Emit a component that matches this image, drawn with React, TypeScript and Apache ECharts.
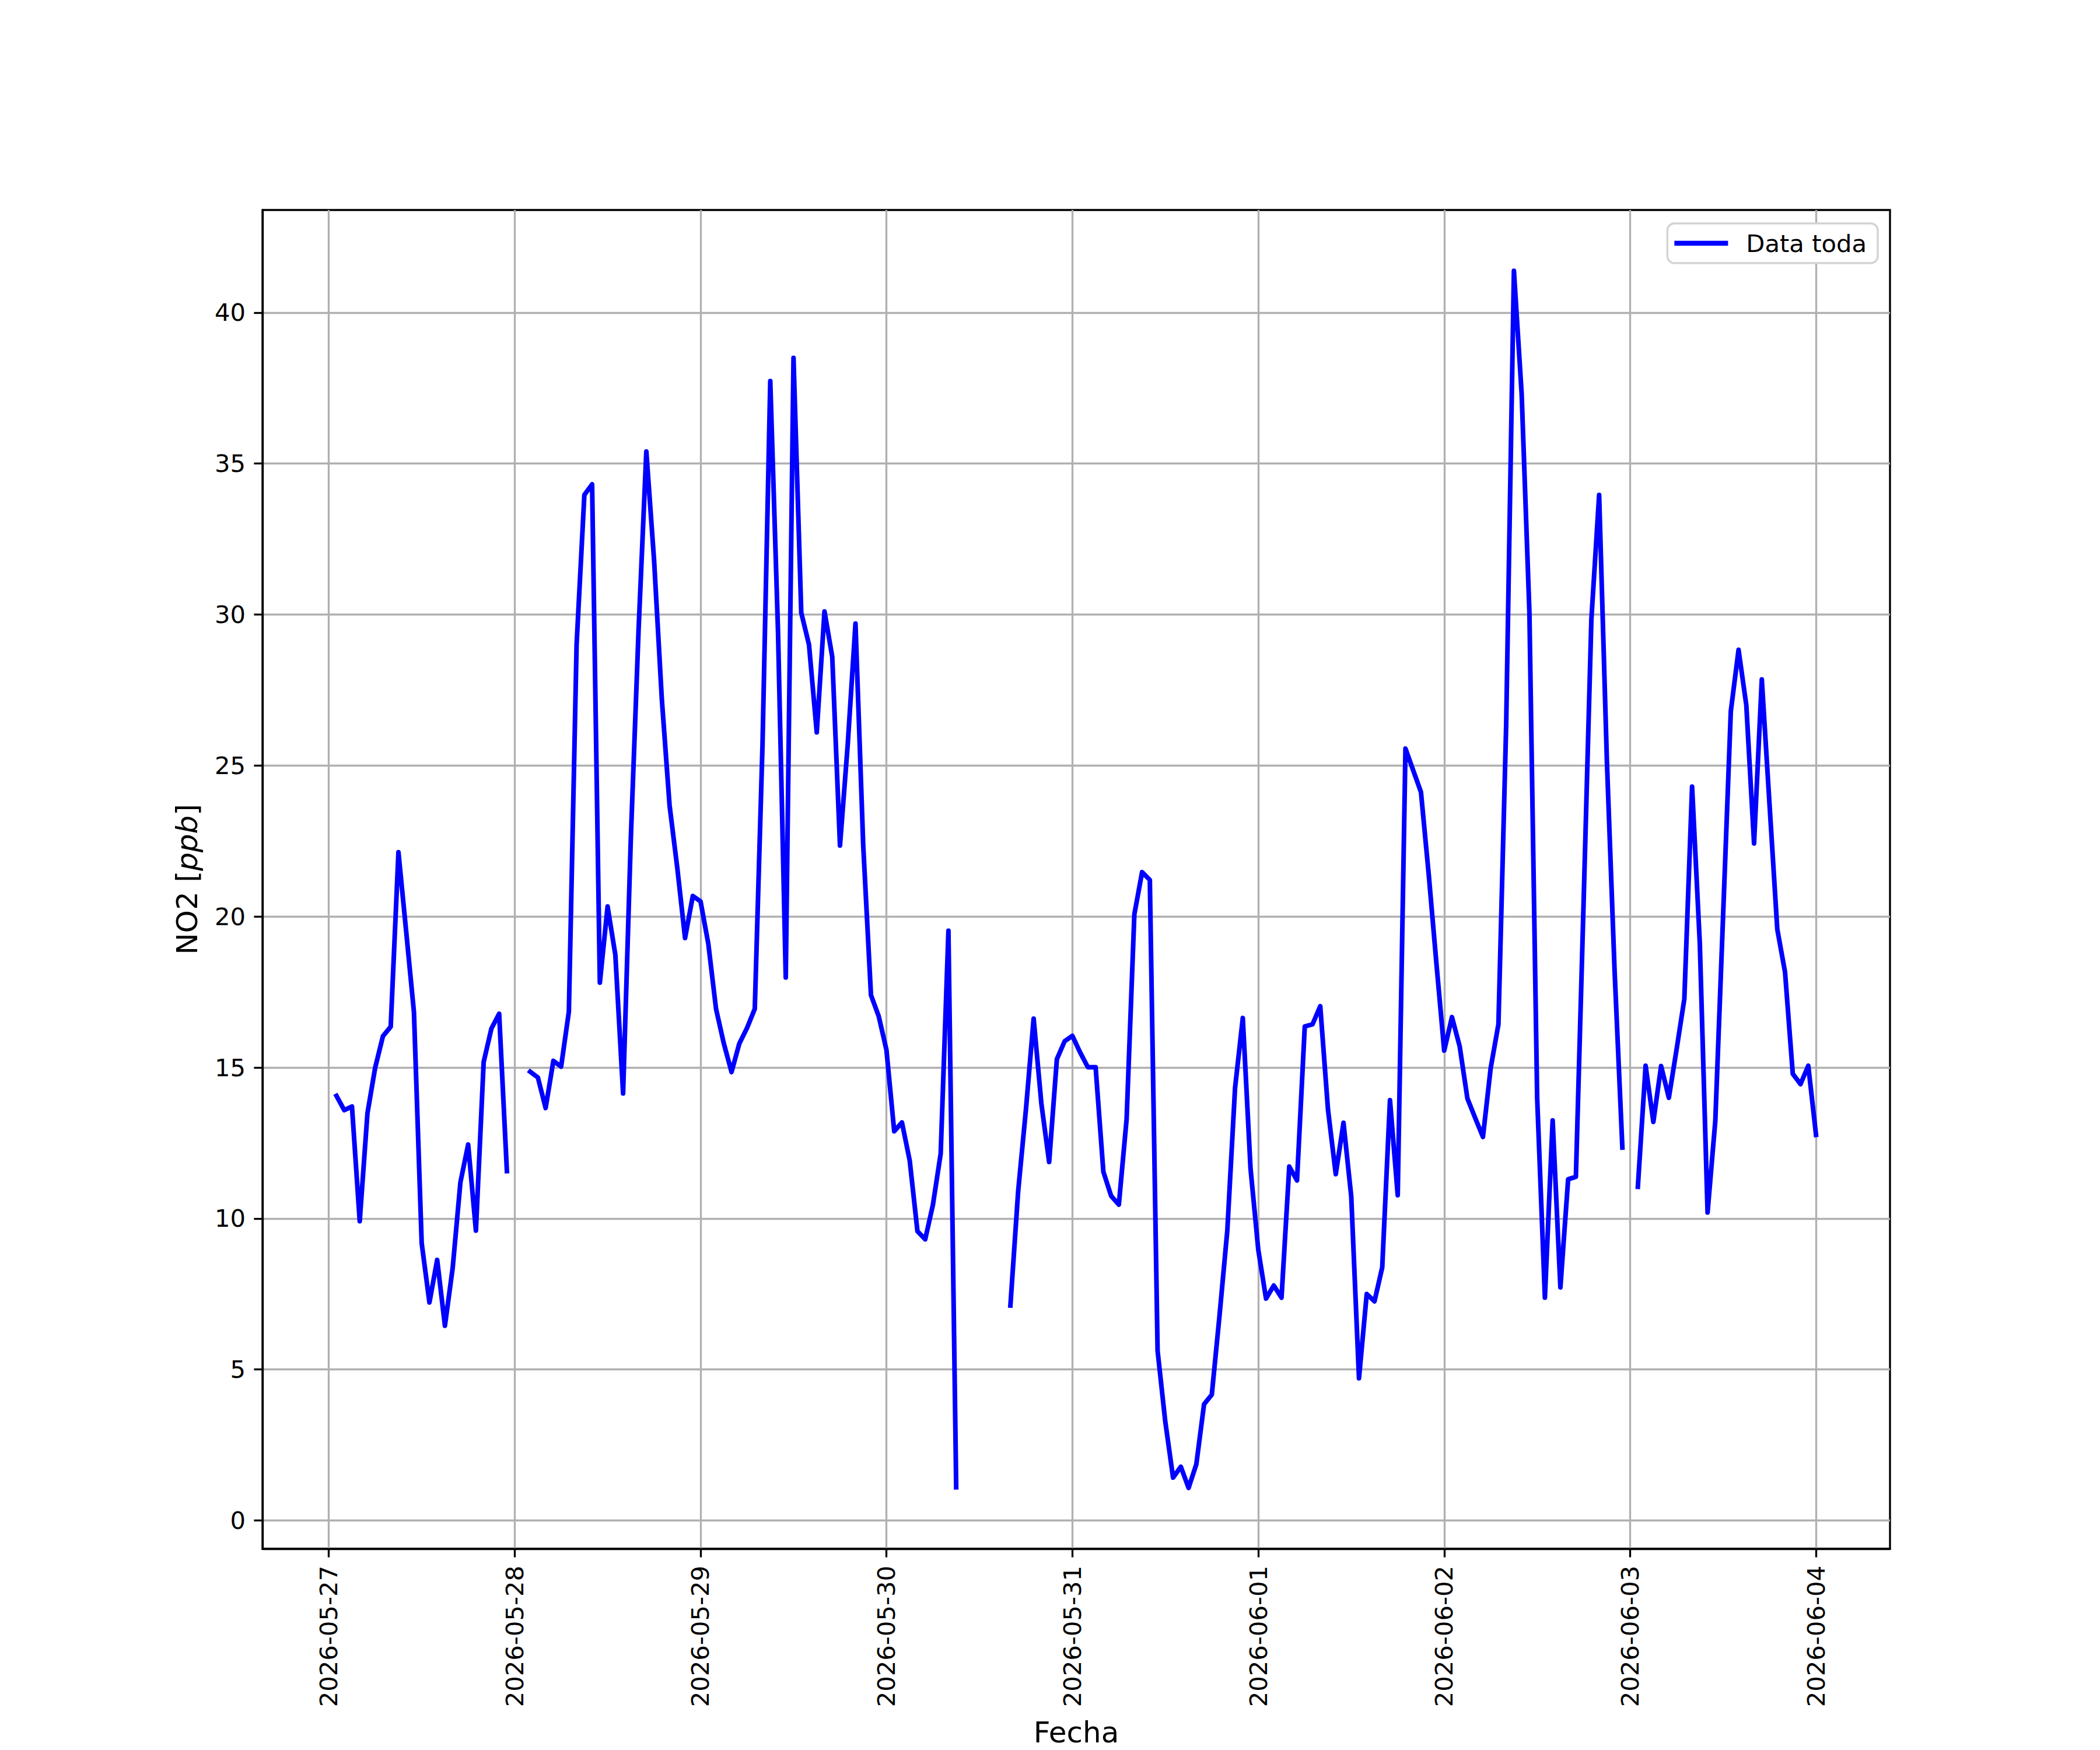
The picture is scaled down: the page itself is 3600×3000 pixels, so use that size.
import React, { useEffect, useRef } from "react";
import * as echarts from "echarts";

// Hourly NO2 values (ppb), one array per day, index = hour of day; null = no data
const no2_0527 = [null, 14.06, 13.59, 13.71, 9.91, 13.49, 15.0, 16.04, 16.35, 22.13, 19.5, 16.84, 9.18, 7.22, 8.63, 6.45, 8.36, 11.2, 12.45, 9.6, 15.18, 16.29, 16.78, 11.57];
const no2_0528 = [null, null, 14.86, 14.67, 13.66, 15.22, 15.03, 16.85, 29.02, 33.96, 34.31, 17.81, 20.33, 18.73, 14.14, 22.6, 29.5, 35.4, 31.8, 27.2, 23.68, 21.6, 19.29, 20.68];
const no2_0529 = [20.5, 19.1, 16.94, 15.8, 14.85, 15.79, 16.31, 16.94, 25.7, 37.73, 29.44, 17.98, 38.5, 30.06, 29.0, 26.1, 30.1, 28.6, 22.35, 25.7, 29.7, 22.35, 17.4, 16.7];
const no2_0530 = [15.58, 12.89, 13.18, 11.92, 9.58, 9.31, 10.46, 12.15, 19.53, 1.1, null, null, null, null, null, null, 7.12, 10.9, 13.6, 16.62, 13.8, 11.87, 15.28, 15.87];
const no2_0531 = [16.05, 15.5, 15.01, 15.01, 11.55, 10.75, 10.46, 13.29, 20.07, 21.47, 21.21, 5.62, 3.26, 1.42, 1.78, 1.08, 1.86, 3.85, 4.17, 6.8, 9.6, 14.32, 16.64, 11.65];
const no2_0601 = [8.96, 7.35, 7.78, 7.38, 11.72, 11.26, 16.36, 16.43, 17.03, 13.6, 11.47, 13.17, 10.73, 4.71, 7.5, 7.26, 8.38, 13.92, 10.77, 25.56, 24.84, 24.12, 21.4, 18.43];
const no2_0602 = [15.56, 16.67, 15.7, 13.97, 13.33, 12.7, 14.98, 16.43, 26.34, 41.38, 37.3, 30.07, 14.0, 7.38, 13.25, 7.72, 11.3, 11.38, 20.5, 29.84, 33.96, 25.17, 18.18, 12.35];
const no2_0603 = [null, 11.05, 15.06, 13.2, 15.05, 14.0, 15.6, 17.27, 24.3, 19.1, 10.2, 13.24, 20.0, 26.8, 28.83, 27.0, 22.42, 27.85, 23.7, 19.58, 18.16, 14.79, 14.45, 15.06];
const no2_0604 = [12.77];

const dayTickLabels = ["2026-05-27", "2026-05-28", "2026-05-29", "2026-05-30", "2026-05-31", "2026-06-01", "2026-06-02", "2026-06-03", "2026-06-04"];
const yTickValues = [0, 5, 10, 15, 20, 25, 30, 35, 40];

const seriesName = "Data toda";
const xAxisTitle = "Fecha";

const FONT = "DejaVu Sans";

export default function App() {
  const ref = useRef<HTMLDivElement>(null);

  useEffect(() => {
    if (!ref.current) return;
    const chart = echarts.init(ref.current, null, { renderer: "svg", width: 3600, height: 3000 });

    const days = [no2_0527, no2_0528, no2_0529, no2_0530, no2_0531, no2_0601, no2_0602, no2_0603, no2_0604];
    const data: any[] = [];
    const valid: number[][] = [];
    days.forEach((arr, d) => {
      arr.forEach((v, h) => {
        const x = d + h / 24;
        if (v === null) {
          data.push([x, "-"]);
        } else {
          data.push([x, v]);
          valid.push([x, v as number]);
        }
      });
    });
    const xs = valid.map((p) => p[0]);
    const ys = valid.map((p) => p[1]);
    const x0 = Math.min(...xs), x1 = Math.max(...xs);
    const y0 = Math.min(...ys), y1 = Math.max(...ys);
    const xm = (x1 - x0) * 0.05, ym = (y1 - y0) * 0.05;
    const xTickValues = dayTickLabels.map((_, i) => i);

    const lw = 3.33;

    chart.setOption({
      animation: false,
      backgroundColor: "#ffffff",
      textStyle: { fontFamily: FONT },
      grid: {
        left: 450,
        right: 360,
        top: 360,
        bottom: 330,
        show: true,
        borderColor: "#000000",
        borderWidth: lw,
        backgroundColor: "transparent",
      },
      legend: {
        data: [seriesName],
        right: 381,
        top: 383,
        icon: "rect",
        itemWidth: 92,
        itemHeight: 8.3,
        padding: [13, 19, 13, 12],
        backgroundColor: "#ffffff",
        borderColor: "#d3d3d3",
        borderWidth: 3.3,
        borderRadius: 12,
        textStyle: { fontSize: 41.7, fontFamily: FONT, color: "#000000", padding: [0, 0, 0, 26] },
      },
      xAxis: {
        type: "value",
        min: x0 - xm,
        max: x1 + xm,
        name: xAxisTitle,
        nameLocation: "middle",
        nameGap: 290,
        nameTextStyle: { fontSize: 50, fontFamily: FONT, color: "#000000" },
        axisLine: { show: true, onZero: false, lineStyle: { color: "#000000", width: lw } },
        axisTick: { show: true, length: 14.6, lineStyle: { color: "#000000", width: lw }, customValues: xTickValues },
        axisLabel: {
          show: true,
          rotate: 90,
          margin: 29,
          fontSize: 41.7,
          fontFamily: FONT,
          color: "#000000",
          customValues: xTickValues,
          formatter: (v: number) => dayTickLabels[Math.round(v)] ?? "",
        },
        splitLine: { show: true, lineStyle: { color: "#b0b0b0", width: lw } },
      },
      yAxis: {
        type: "value",
        min: y0 - ym,
        max: y1 + ym,
        name: "{n|NO2 [}{i|ppb}{n|]}",
        nameLocation: "middle",
        nameGap: 104,
        nameTextStyle: {
          fontSize: 50,
          fontFamily: FONT,
          color: "#000000",
          rich: {
            n: { fontSize: 50, fontFamily: FONT, color: "#000000" },
            i: { fontSize: 50, fontFamily: FONT, color: "#000000", fontStyle: "italic" },
          },
        },
        axisLine: { show: true, onZero: false, lineStyle: { color: "#000000", width: lw } },
        axisTick: { show: true, length: 14.6, lineStyle: { color: "#000000", width: lw }, customValues: yTickValues },
        axisLabel: {
          show: true,
          margin: 29,
          fontSize: 41.7,
          fontFamily: FONT,
          color: "#000000",
          customValues: yTickValues,
          formatter: (v: number) => String(v),
        },
        splitLine: { show: true, lineStyle: { color: "#b0b0b0", width: lw } },
      },
      series: [
        {
          name: seriesName,
          type: "line",
          data,
          symbol: "none",
          showSymbol: false,
          connectNulls: false,
          color: "#0000ff",
          lineStyle: { color: "#0000ff", width: 8, cap: "square", join: "round" },
        },
      ],
    });

    return () => {
      chart.dispose();
    };
  }, []);

  return (
    <div
      ref={ref}
      style={{ position: "absolute", left: 0, top: 0, width: 3600, height: 3000, background: "#fff" }}
    />
  );
}
